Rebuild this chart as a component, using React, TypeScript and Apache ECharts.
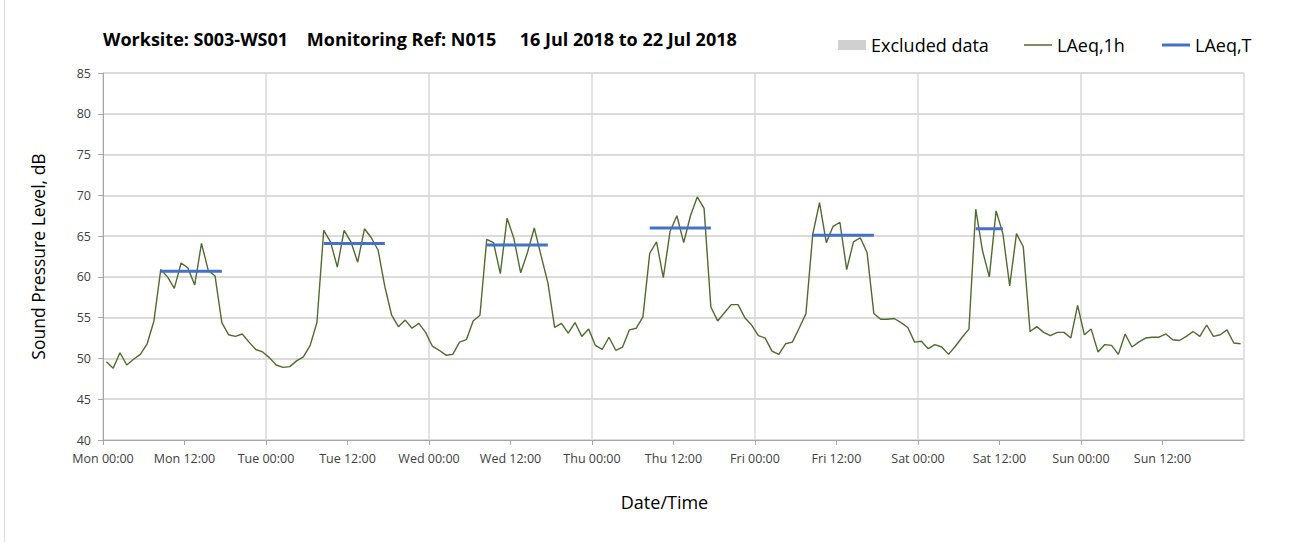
import React, { useEffect, useRef } from "react";
import * as echarts from "echarts";

const dayNames = ["Mon", "Tue", "Wed", "Thu", "Fri", "Sat", "Sun"];

const monLevels = [49.6, 48.8, 50.7, 49.2, 49.9, 50.5, 51.8, 54.6, 60.9, 60.0, 58.6, 61.7, 61.1, 59.0, 64.1, 60.8, 60.1, 54.4, 52.9, 52.7, 53.0, 52.0, 51.1, 50.8];
const tueLevels = [50.1, 49.2, 48.9, 49.0, 49.7, 50.2, 51.6, 54.4, 65.7, 64.3, 61.2, 65.7, 64.3, 61.8, 65.9, 64.8, 63.3, 58.8, 55.3, 53.9, 54.7, 53.7, 54.3, 53.2];
const wedLevels = [51.5, 51.0, 50.4, 50.5, 52.0, 52.3, 54.6, 55.3, 64.6, 64.2, 60.4, 67.2, 64.7, 60.5, 63.0, 66.0, 62.6, 59.3, 53.8, 54.3, 53.1, 54.4, 52.7, 53.6];
const thuLevels = [51.6, 51.1, 52.6, 51.0, 51.4, 53.5, 53.7, 55.1, 62.9, 64.3, 59.9, 65.6, 67.5, 64.2, 67.5, 69.8, 68.4, 56.3, 54.6, 55.6, 56.6, 56.6, 55.0, 54.1];
const friLevels = [52.8, 52.5, 50.9, 50.5, 51.8, 52.0, 53.7, 55.5, 65.2, 69.1, 64.2, 66.2, 66.7, 60.9, 64.3, 64.8, 63.0, 55.5, 54.8, 54.8, 54.9, 54.4, 53.8, 52.0];
const satLevels = [52.1, 51.2, 51.7, 51.4, 50.5, 51.5, 52.6, 53.6, 68.3, 63.2, 60.0, 68.1, 65.3, 58.9, 65.3, 63.7, 53.3, 53.9, 53.2, 52.8, 53.2, 53.2, 52.5, 56.5];
const sunLevels = [52.9, 53.6, 50.8, 51.7, 51.6, 50.5, 53.0, 51.4, 52.0, 52.5, 52.6, 52.6, 53.0, 52.3, 52.2, 52.7, 53.3, 52.7, 54.1, 52.7, 52.9, 53.5, 51.9, 51.8];

// LAeq,T periods (day index, first hour, last hour, level)
const periodDays = [0, 1, 2, 3, 4, 5];
const periodStartHours = [8, 8, 8, 8, 8, 8];
const periodEndHours = [17, 17, 17, 17, 17, 12];
const periodLevels = [60.7, 64.1, 63.9, 66.0, 65.1, 65.9];

const FONT = "'Open Sans', sans-serif";

export default function App() {
  const ref = useRef<HTMLDivElement>(null);

  useEffect(() => {
    if (!ref.current) return;
    const chart = echarts.init(ref.current, null, { renderer: "svg" });

    const hourly = [
      ...monLevels, ...tueLevels, ...wedLevels, ...thuLevels,
      ...friLevels, ...satLevels, ...sunLevels,
    ];
    const hourlyData = hourly.map((v, i) => [i + 0.5, v]);

    const tArr: (number | null)[] = hourly.map(() => null);
    periodDays.forEach((d, k) => {
      for (let h = periodStartHours[k]; h <= periodEndHours[k]; h++) {
        tArr[d * 24 + h] = periodLevels[k];
      }
    });
    const tData = tArr.map((v, i) => [i + 0.5, v]);

    const legendText = { fontFamily: FONT, fontSize: 18, color: "#000000" };

    chart.setOption({
      animation: false,
      backgroundColor: "#ffffff",
      textStyle: { fontFamily: FONT },
      title: {
        text: "Worksite: S003-WS01    Monitoring Ref: N015     16 Jul 2018 to 22 Jul 2018",
        left: 98,
        top: 25,
        textStyle: { fontFamily: FONT, fontSize: 18, fontWeight: "bold", color: "#000000" },
      },
      legend: [
        {
          left: 833,
          top: 31,
          itemWidth: 28,
          itemHeight: 10,
          icon: "rect",
          textStyle: legendText,
          data: ["Excluded data"],
        },
        {
          left: 1019,
          top: 31,
          itemWidth: 28,
          itemHeight: 1.5,
          icon: "rect",
          textStyle: legendText,
          data: ["LAeq,1h"],
        },
        {
          left: 1157,
          top: 31,
          itemWidth: 28,
          itemHeight: 3,
          icon: "rect",
          textStyle: legendText,
          data: ["LAeq,T"],
        },
      ],
      grid: { left: 103, right: 63, top: 73, bottom: 102 },
      xAxis: [
        {
          type: "value",
          min: 0,
          max: 168,
          interval: 12,
          name: "Date/Time",
          nameLocation: "middle",
          nameGap: 53,
          nameTextStyle: { fontFamily: FONT, fontSize: 18, color: "#000000", padding: [0, 18, 0, 0] },
          axisLine: { show: true, lineStyle: { color: "#a6a6a6", width: 1 } },
          axisTick: { show: true, length: 5, lineStyle: { color: "#a6a6a6" } },
          axisLabel: {
            margin: 12,
            fontSize: 12.5,
            color: "#404040",
            fontFamily: FONT,
            showMaxLabel: false,
            formatter: (v: number) => {
              if (v >= 168) return "";
              const d = Math.floor(v / 24);
              return dayNames[d] + (v % 24 === 0 ? " 00:00" : " 12:00");
            },
          },
          splitLine: { show: false },
        },
        {
          type: "value",
          min: 0,
          max: 168,
          interval: 24,
          position: "bottom",
          axisLine: { show: false },
          axisTick: { show: false },
          axisLabel: { show: false },
          splitLine: { show: true, lineStyle: { color: "#d9d9d9", width: 1.5 } },
        },
      ],
      yAxis: {
        type: "value",
        min: 40,
        max: 85,
        interval: 5,
        name: "Sound Pressure Level, dB",
        nameLocation: "middle",
        nameGap: 56,
        nameTextStyle: { fontFamily: FONT, fontSize: 17.5, color: "#000000" },
        axisLine: { show: true, lineStyle: { color: "#a6a6a6", width: 1 } },
        axisTick: { show: true, length: 5, lineStyle: { color: "#a6a6a6" } },
        axisLabel: { margin: 12, fontSize: 12.5, color: "#404040", fontFamily: FONT },
        splitLine: { show: true, lineStyle: { color: "#cfcfcf", width: 1.5 } },
      },
      series: [
        {
          name: "Excluded data",
          type: "bar",
          data: [],
          itemStyle: { color: "#d0d0d0" },
        },
        {
          name: "LAeq,1h",
          type: "line",
          data: hourlyData,
          symbol: "none",
          color: "#4f6b2e",
          lineStyle: { color: "#4f6b2e", width: 1.4 },
          z: 3,
        },
        {
          name: "LAeq,T",
          type: "line",
          data: tData,
          symbol: "none",
          color: "#4472c4",
          lineStyle: { color: "#4472c4", width: 3 },
          connectNulls: false,
          z: 4,
        },
      ],
      graphic: [
        {
          type: "line",
          shape: { x1: 4.5, y1: 0, x2: 4.5, y2: 542 },
          style: { stroke: "#d9d9d9", lineWidth: 1 },
        },
      ],
    });

    return () => chart.dispose();
  }, []);

  return (
    <div
      ref={ref}
      style={{ position: "fixed", left: 0, top: 0, width: 1307, height: 542 }}
    />
  );
}
